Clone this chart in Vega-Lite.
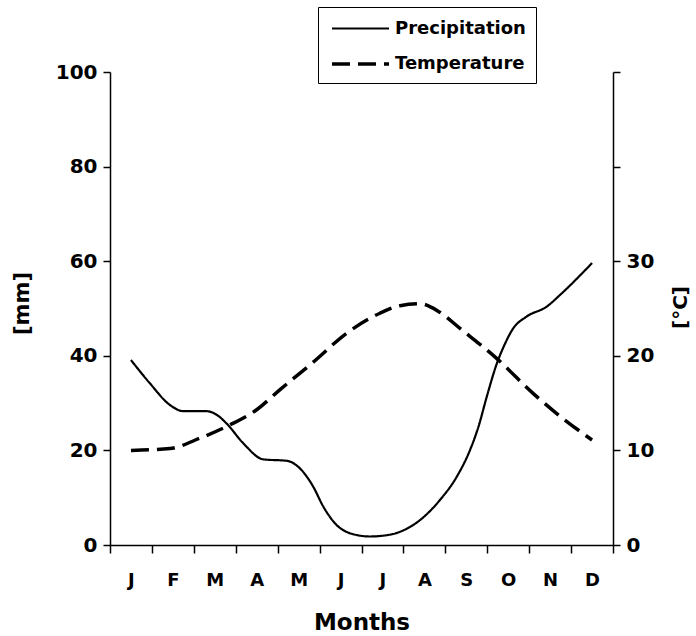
{
  "$schema": "https://vega.github.io/schema/vega-lite/v6.json",
  "width": 503,
  "height": 473,
  "autosize": "none",
  "padding": {"left": 110, "top": 72, "right": 83, "bottom": 91},
  "background": "white",
  "config": {
    "view": {"stroke": null},
    "font": "DejaVu Sans",
    "axis": {
      "grid": false,
      "domainColor": "black",
      "tickColor": "black",
      "labelColor": "black",
      "titleColor": "black",
      "labelFont": "DejaVu Sans",
      "titleFont": "DejaVu Sans",
      "labelFontWeight": "bold",
      "titleFontWeight": "bold",
      "domainWidth": 1.5,
      "tickWidth": 1.5
    },
    "legend": {
      "orient": "none",
      "legendX": 208,
      "legendY": -65,
      "strokeColor": "black",
      "padding": 10,
      "symbolType": "M-0.8,0H4.9",
      "symbolSize": 400,
      "symbolStrokeColor": "black",
      "symbolFillColor": "transparent",
      "labelFont": "DejaVu Sans",
      "labelFontSize": 18,
      "labelFontWeight": "bold",
      "labelColor": "black",
      "labelOffset": 43,
      "rowPadding": 14,
      "fillColor": "white"
    }
  },
  "data": {
    "values": [
      {"series": "Precipitation", "m": 1.0, "v": 39.1},
      {"series": "Precipitation", "m": 1.45, "v": 34.2},
      {"series": "Precipitation", "m": 1.93, "v": 29.6},
      {"series": "Precipitation", "m": 2.25, "v": 28.3},
      {"series": "Precipitation", "m": 2.8, "v": 28.3},
      {"series": "Precipitation", "m": 3.05, "v": 27.5},
      {"series": "Precipitation", "m": 3.28, "v": 25.7},
      {"series": "Precipitation", "m": 3.68, "v": 21.5},
      {"series": "Precipitation", "m": 4.16, "v": 18.1},
      {"series": "Precipitation", "m": 4.72, "v": 17.8},
      {"series": "Precipitation", "m": 5.03, "v": 16.2},
      {"series": "Precipitation", "m": 5.35, "v": 12.3},
      {"series": "Precipitation", "m": 5.59, "v": 8.1},
      {"series": "Precipitation", "m": 5.91, "v": 4.2},
      {"series": "Precipitation", "m": 6.39, "v": 2.1},
      {"series": "Precipitation", "m": 6.7, "v": 1.8},
      {"series": "Precipitation", "m": 6.94, "v": 1.9},
      {"series": "Precipitation", "m": 7.42, "v": 2.8},
      {"series": "Precipitation", "m": 7.9, "v": 5.3},
      {"series": "Precipitation", "m": 8.37, "v": 9.5},
      {"series": "Precipitation", "m": 8.77, "v": 14.4},
      {"series": "Precipitation", "m": 9.09, "v": 20.1},
      {"series": "Precipitation", "m": 9.29, "v": 25.0},
      {"series": "Precipitation", "m": 9.49, "v": 31.4},
      {"series": "Precipitation", "m": 9.73, "v": 38.4},
      {"series": "Precipitation", "m": 9.89, "v": 41.9},
      {"series": "Precipitation", "m": 10.12, "v": 45.8},
      {"series": "Precipitation", "m": 10.44, "v": 48.3},
      {"series": "Precipitation", "m": 10.92, "v": 50.4},
      {"series": "Precipitation", "m": 11.24, "v": 52.9},
      {"series": "Precipitation", "m": 12.0, "v": 59.6},
      {"series": "Temperature", "m": 1.0, "v": 10.0},
      {"series": "Temperature", "m": 1.93, "v": 10.2},
      {"series": "Temperature", "m": 2.65, "v": 11.3},
      {"series": "Temperature", "m": 3.36, "v": 12.7},
      {"series": "Temperature", "m": 4.0, "v": 14.3},
      {"series": "Temperature", "m": 4.55, "v": 16.4},
      {"series": "Temperature", "m": 5.34, "v": 19.3},
      {"series": "Temperature", "m": 6.15, "v": 22.4},
      {"series": "Temperature", "m": 6.94, "v": 24.5},
      {"series": "Temperature", "m": 7.42, "v": 25.3},
      {"series": "Temperature", "m": 7.9, "v": 25.5},
      {"series": "Temperature", "m": 8.37, "v": 24.6},
      {"series": "Temperature", "m": 8.85, "v": 22.9},
      {"series": "Temperature", "m": 9.73, "v": 19.7},
      {"series": "Temperature", "m": 10.6, "v": 16.0},
      {"series": "Temperature", "m": 11.24, "v": 13.6},
      {"series": "Temperature", "m": 12.0, "v": 11.1}
    ]
  },
  "encoding": {
    "x": {
      "field": "m",
      "type": "quantitative",
      "scale": {"domain": [0.5, 12.5], "nice": false, "zero": false},
      "axis": {
        "title": "Months",
        "titleFontSize": 23,
        "titlePadding": 22,
        "labelFontSize": 18,
        "values": [0.5, 1.5, 2.5, 3.5, 4.5, 5.5, 6.5, 7.5, 8.5, 9.5, 10.5, 11.5, 12.5],
        "labelExpr": "['J','F','M','A','M','J','J','A','S','O','N','D',''][floor(datum.value)]",
        "labelOffset": 20.96,
        "labelFlush": false,
        "labelOverlap": false,
        "labelBound": false,
        "tickSize": 8,
        "labelPadding": 18
      }
    },
    "strokeDash": {
      "field": "series",
      "type": "nominal",
      "scale": {"domain": ["Precipitation", "Temperature"], "range": [[1, 0], [18, 8]]},
      "legend": {"title": null}
    },
    "strokeWidth": {
      "field": "series",
      "type": "nominal",
      "scale": {"domain": ["Precipitation", "Temperature"], "range": [2.2, 3.5]},
      "legend": {"title": null}
    }
  },
  "layer": [
    {
      "transform": [{"filter": "datum.series === 'Precipitation'"}],
      "mark": {"type": "line", "interpolate": "monotone", "color": "black"},
      "encoding": {
        "y": {
          "field": "v",
          "type": "quantitative",
          "scale": {"domain": [0, 100], "nice": false},
          "axis": {
            "orient": "left",
            "title": "[mm]",
            "titleFontSize": 21,
            "titleX": -88,
            "titleY": 231,
            "titleBaseline": "middle",
            "titleAngle": -90,
            "values": [0, 20, 40, 60, 80, 100],
            "labelFontSize": 20,
            "tickSize": 7,
            "labelPadding": 6
          }
        }
      }
    },
    {
      "transform": [{"filter": "datum.series === 'Temperature'"}],
      "mark": {"type": "line", "interpolate": "monotone", "color": "black"},
      "encoding": {
        "y": {
          "field": "v",
          "type": "quantitative",
          "scale": {"domain": [0, 50], "nice": false},
          "axis": {
            "orient": "right",
            "title": "[°C]",
            "titleFontSize": 20,
            "titleX": 67,
            "titleY": 235,
            "titleBaseline": "middle",
            "titleAngle": -90,
            "values": [0, 10, 20, 30, 40, 50],
            "labelExpr": "datum.value <= 30 ? datum.label : ''",
            "labelFontSize": 20,
            "tickSize": 7,
            "labelPadding": 6
          }
        }
      }
    }
  ],
  "resolve": {"scale": {"y": "independent"}}
}
